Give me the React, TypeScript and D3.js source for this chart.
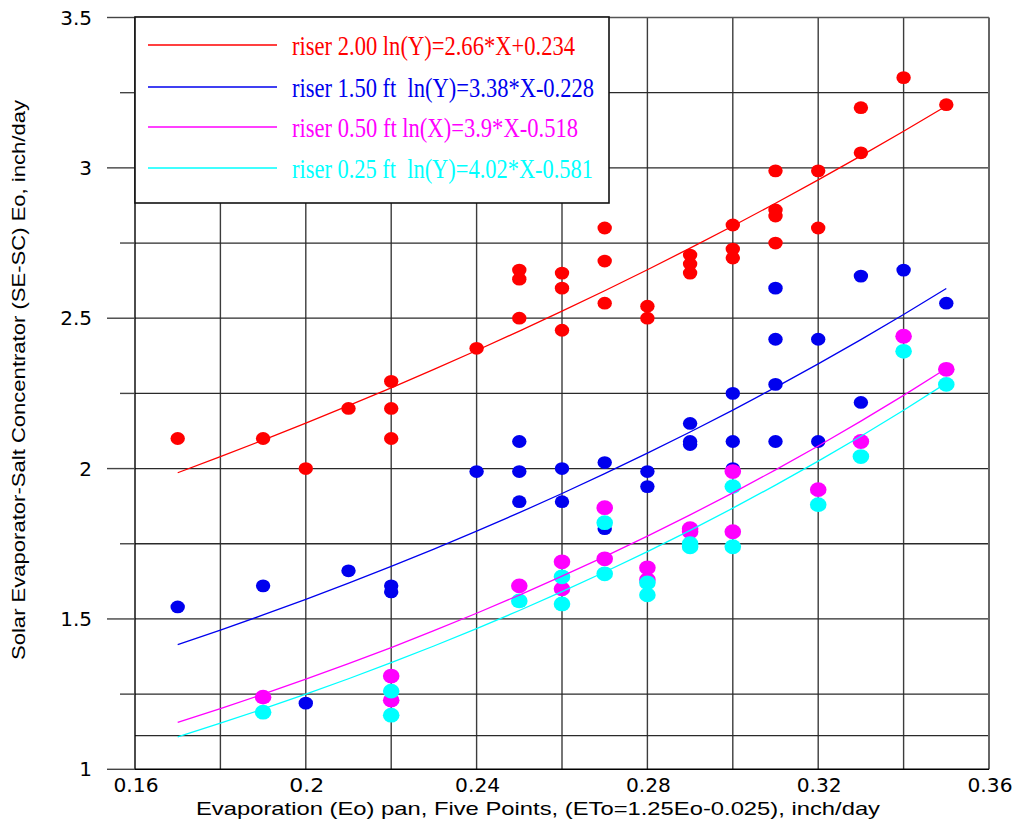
import React from "react";
import * as d3 from "d3";

const xTicks = [0.16, 0.2, 0.24, 0.28, 0.32, 0.36];
const xGrid = [0.18, 0.2, 0.22, 0.24, 0.26, 0.28, 0.3, 0.32, 0.34];
const yTicksMajor = [1, 1.5, 2, 2.5, 3, 3.5];
const yTicksMinor = [1.25, 1.75, 2.25, 2.75, 3.25];
const yGrid = [1.112, 1.25, 1.5, 1.75, 2, 2.25, 2.5, 2.75, 3, 3.25];

const red: [number, number][] = [
  [0.17, 2.10], [0.19, 2.10], [0.20, 2.00], [0.21, 2.20], [0.22, 2.29], [0.22, 2.20], [0.22, 2.10],
  [0.24, 2.40], [0.25, 2.66], [0.25, 2.63], [0.25, 2.50], [0.26, 2.65], [0.26, 2.60], [0.26, 2.46],
  [0.27, 2.80], [0.27, 2.69], [0.27, 2.55], [0.28, 2.54], [0.28, 2.50], [0.29, 2.71], [0.29, 2.68],
  [0.29, 2.65], [0.30, 2.81], [0.30, 2.73], [0.30, 2.70], [0.31, 2.99], [0.31, 2.86], [0.31, 2.84],
  [0.31, 2.75], [0.32, 2.99], [0.32, 2.80], [0.33, 3.20], [0.33, 3.05], [0.34, 3.30], [0.35, 3.21],
];
const blue: [number, number][] = [
  [0.17, 1.54], [0.19, 1.61], [0.20, 1.22], [0.21, 1.66], [0.22, 1.61], [0.22, 1.59], [0.24, 1.99],
  [0.25, 2.09], [0.25, 1.99], [0.25, 1.89], [0.26, 2.00], [0.26, 1.89], [0.27, 2.02], [0.27, 1.80],
  [0.28, 1.99], [0.28, 1.94], [0.29, 2.15], [0.29, 2.09], [0.29, 2.08], [0.30, 2.25], [0.30, 2.09],
  [0.30, 2.00], [0.31, 2.60], [0.31, 2.43], [0.31, 2.28], [0.31, 2.09], [0.32, 2.43], [0.32, 2.09],
  [0.33, 2.64], [0.33, 2.22], [0.34, 2.66], [0.35, 2.55],
];
const magenta: [number, number][] = [
  [0.19, 1.24], [0.22, 1.31], [0.22, 1.23], [0.25, 1.61], [0.26, 1.69], [0.26, 1.60], [0.27, 1.87],
  [0.27, 1.70], [0.28, 1.67], [0.28, 1.63], [0.29, 1.80], [0.29, 1.79], [0.30, 1.99], [0.30, 1.79],
  [0.32, 1.93], [0.33, 2.09], [0.34, 2.44], [0.35, 2.33],
];
const cyan: [number, number][] = [
  [0.19, 1.19], [0.22, 1.26], [0.22, 1.18], [0.25, 1.56], [0.26, 1.64], [0.26, 1.55], [0.27, 1.82],
  [0.27, 1.65], [0.28, 1.62], [0.28, 1.58], [0.29, 1.75], [0.29, 1.74], [0.30, 1.94], [0.30, 1.74],
  [0.32, 1.88], [0.33, 2.04], [0.34, 2.39], [0.35, 2.28],
];

const seriesNames = [
  "riser 2.00 ln(Y)=2.66*X+0.234",
  "riser 1.50 ft  ln(Y)=3.38*X-0.228",
  "riser 0.50 ft ln(X)=3.9*X-0.518",
  "riser 0.25 ft  ln(Y)=4.02*X-0.581",
];
const seriesColors = ["#ff0000", "#0000ee", "#ff00ff", "#00ffff"];
const fitSlopes = [2.66, 3.38, 3.9, 4.02];
const fitIntercepts = [0.234, -0.228, -0.518, -0.581];
const fitXs = [0.17, 0.18, 0.19, 0.2, 0.21, 0.22, 0.23, 0.24, 0.25, 0.26, 0.27, 0.28, 0.29, 0.3, 0.31, 0.32, 0.33, 0.34, 0.35];

const W = 1016, H = 823;
const left = 135, right = 989, top = 17.5, bottom = 769.3;

export default function App() {
  const x = d3.scaleLinear().domain([0.16, 0.36]).range([left, right]);
  const y = d3.scaleLinear().domain([1, 3.5]).range([bottom, top]);
  const seriesPts = [red, blue, magenta, cyan];
  const sizes = [
    [7.2, 6.4],
    [7.2, 6.4],
    [8.3, 7.4],
    [8.3, 7.4],
  ];
  const fitPath = (i: number) =>
    d3
      .line<number>()
      .x((d) => x(d))
      .y((d) => y(Math.exp(fitSlopes[i] * d + fitIntercepts[i])))(fitXs) || "";

  const legendLineY = [45, 87, 127, 168];
  const legendWidths = [283, 302, 286, 301];

  return (
    <svg width={W} height={H} style={{ position: "absolute", left: 0, top: 0, background: "#fff" }}>
      <rect x={0} y={0} width={W} height={H} fill="#fff" />
      {/* grid */}
      {xGrid.map((v) => (
        <line key={"gx" + v} x1={x(v)} x2={x(v)} y1={top} y2={bottom} stroke="#3c3c3c" strokeWidth={1.4} />
      ))}
      {yGrid.map((v) => (
        <line key={"gy" + v} x1={left} x2={right} y1={y(v)} y2={y(v)} stroke="#2a2a2a" strokeWidth={1.3} />
      ))}
      {/* frame */}
      <line x1={left} x2={right} y1={top} y2={top} stroke="#555" strokeWidth={1.6} />
      <line x1={right} x2={right} y1={top} y2={bottom} stroke="#666" strokeWidth={2} />
      <line x1={left} x2={left} y1={top} y2={bottom} stroke="#000" strokeWidth={1.4} />
      <line x1={left} x2={right} y1={bottom} y2={bottom} stroke="#000" strokeWidth={1.4} />
      {/* y ticks */}
      {yTicksMajor.map((v) => (
        <g key={"yt" + v}>
          <line x1={107} x2={left} y1={y(v)} y2={y(v)} stroke="#444" strokeWidth={1.4} />
          <text x={92} y={y(v) + 7} textAnchor="end" fontFamily="DejaVu Sans, Verdana, sans-serif" fontSize={20} fill="#000">
            {String(v)}
          </text>
        </g>
      ))}
      {yTicksMinor.map((v) => (
        <line key={"ym" + v} x1={120} x2={left} y1={y(v)} y2={y(v)} stroke="#444" strokeWidth={1.4} />
      ))}
      {xTicks.map((v) => (
        <text key={"xt" + v} x={x(v) + 1} y={792} textAnchor="middle" fontFamily="DejaVu Sans, Verdana, sans-serif" fontSize={20} textLength={String(v).length > 3 ? 45 : 35} lengthAdjust="spacingAndGlyphs" fill="#000">
          {String(v)}
        </text>
      ))}
      {/* axis titles */}
      <text
        x={538}
        y={815}
        textAnchor="middle"
        fontFamily="Liberation Sans"
        fontSize={19}
        textLength={684}
        lengthAdjust="spacingAndGlyphs"
        fill="#000"
      >
        Evaporation (Eo) pan, Five Points, (ETo=1.25Eo-0.025), inch/day
      </text>
      <text
        transform="translate(25,380) rotate(-90)"
        textAnchor="middle"
        fontFamily="Liberation Sans"
        fontSize={19}
        textLength={560}
        lengthAdjust="spacingAndGlyphs"
        fill="#000"
      >
        Solar Evaporator-Salt Concentrator (SE-SC) Eo, inch/day
      </text>
      {/* points */}
      {seriesPts.map((pts, i) => (
        <g key={"s" + i}>
          {pts.map((p, j) => (
            <ellipse key={j} cx={x(p[0])} cy={y(p[1])} rx={sizes[i][0]} ry={sizes[i][1]} fill={seriesColors[i]} />
          ))}
        </g>
      ))}
      {/* fit lines */}
      {seriesColors.map((c, i) => (
        <path key={"f" + i} d={fitPath(i)} fill="none" stroke={c} strokeWidth={1.3} />
      ))}
      {/* legend */}
      <rect x={left} y={17} width={474} height={186} fill="#fff" stroke="#111" strokeWidth={1.6} />
      {seriesNames.map((n, i) => (
        <g key={"l" + i}>
          <line x1={148} x2={277} y1={legendLineY[i]} y2={legendLineY[i]} stroke={seriesColors[i]} strokeWidth={1.4} />
          <text
            x={292}
            y={legendLineY[i] + 10}
            fontFamily="Liberation Serif"
            fontSize={28}
            fill={seriesColors[i]}
            textLength={legendWidths[i]}
            lengthAdjust="spacingAndGlyphs"
            style={{ whiteSpace: "pre" }}
          >
            {n}
          </text>
        </g>
      ))}
    </svg>
  );
}
